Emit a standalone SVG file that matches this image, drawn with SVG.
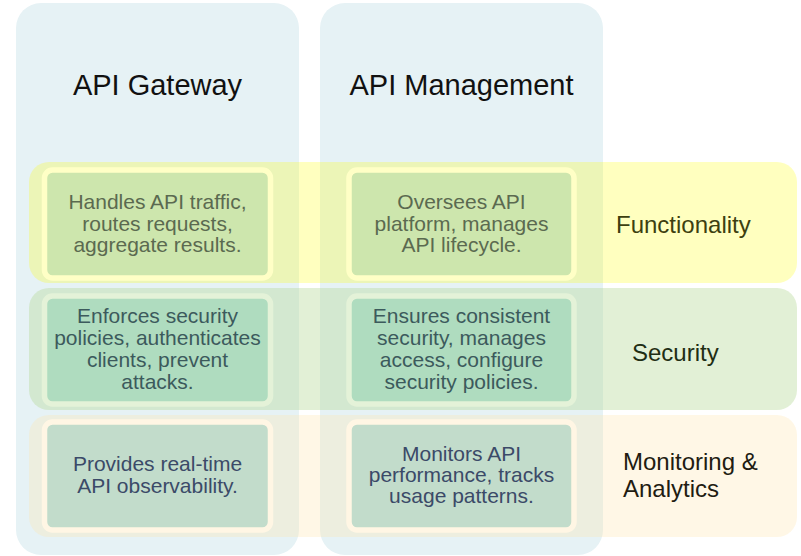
<svg xmlns="http://www.w3.org/2000/svg" width="801" height="556" viewBox="0 0 801 556">
<style>
text{font-family:"Liberation Sans",Arial,sans-serif;text-anchor:middle}
.col{fill:#e6f2f5}
.hdr{font-size:29px;fill:#111}
.row{rx:20px}
.cell{stroke-width:5.5}
.ct{font-size:21px}
.lbl{font-size:24px;text-anchor:start}
.f .cell{fill:#cde6ad;stroke:#ffffc6}
.f .ct{fill:#5b6a50}
.s .cell{fill:#afdcbf;stroke:#e4f2d8}
.s .ct{fill:#3c5a5c}
.m .cell{fill:#c2dccb;stroke:#fff6e4}
.m .ct{fill:#3b4a68}
</style>
<g id="col-gateway"><rect class="col" x="16" y="3" width="283" height="552" rx="25"/><text class="hdr" x="157.5" y="94.5">API Gateway</text></g>
<g id="col-management"><rect class="col" x="320" y="3" width="283" height="552" rx="25"/><text class="hdr" x="461.5" y="94.5">API Management</text></g>
<g id="row-functionality"><rect x="29" y="162" width="768" height="121" rx="20" fill="#ffff00" fill-opacity="0.25"/><text class="lbl" x="616" y="233" fill="#3d3f10">Functionality</text></g>
<g id="row-security"><rect x="29" y="288" width="768" height="122" rx="20" fill="#b6d998" fill-opacity="0.4"/><text class="lbl" x="632" y="361" fill="#1f2e14">Security</text></g>
<g id="row-monitoring"><rect x="29" y="415" width="768" height="122" rx="20" fill="#ffe4ac" fill-opacity="0.3"/><text class="lbl" x="623" y="470" fill="#221c12"><tspan x="623">Monitoring &amp;</tspan><tspan x="623" dy="27">Analytics</tspan></text></g>
<g id="gw-func" class="f"><rect class="cell" x="44.5" y="170" width="226" height="108" rx="8"/><text class="ct" x="157.5" y="209.3"><tspan x="157.5">Handles API traffic,</tspan><tspan x="157.5" dy="21.3">routes requests,</tspan><tspan x="157.5" dy="21.3">aggregate results.</tspan></text></g>
<g id="mgmt-func" class="f"><rect class="cell" x="349" y="170" width="225" height="108" rx="8"/><text class="ct" x="461.5" y="209.3"><tspan x="461.5">Oversees API</tspan><tspan x="461.5" dy="21.3">platform, manages</tspan><tspan x="461.5" dy="21.3">API lifecycle.</tspan></text></g>
<g id="gw-sec" class="s"><rect class="cell" x="44.5" y="296" width="226" height="108" rx="8"/><text class="ct" x="157.5" y="323.3"><tspan x="157.5">Enforces security</tspan><tspan x="157.5" dy="22">policies, authenticates</tspan><tspan x="157.5" dy="22">clients, prevent</tspan><tspan x="157.5" dy="22">attacks.</tspan></text></g>
<g id="mgmt-sec" class="s"><rect class="cell" x="349" y="296" width="225" height="108" rx="8"/><text class="ct" x="461.5" y="323.3"><tspan x="461.5">Ensures consistent</tspan><tspan x="461.5" dy="22">security, manages</tspan><tspan x="461.5" dy="22">access, configure</tspan><tspan x="461.5" dy="22">security policies.</tspan></text></g>
<g id="gw-mon" class="m"><rect class="cell" x="44.5" y="422" width="226" height="108" rx="8"/><text class="ct" x="157.5" y="471"><tspan x="157.5">Provides real-time</tspan><tspan x="157.5" dy="22.3">API observability.</tspan></text></g>
<g id="mgmt-mon" class="m"><rect class="cell" x="349" y="422" width="225" height="108" rx="8"/><text class="ct" x="461.5" y="461"><tspan x="461.5">Monitors API</tspan><tspan x="461.5" dy="21.2">performance, tracks</tspan><tspan x="461.5" dy="21.2">usage patterns.</tspan></text></g>
<g id="connectors"/>
</svg>
